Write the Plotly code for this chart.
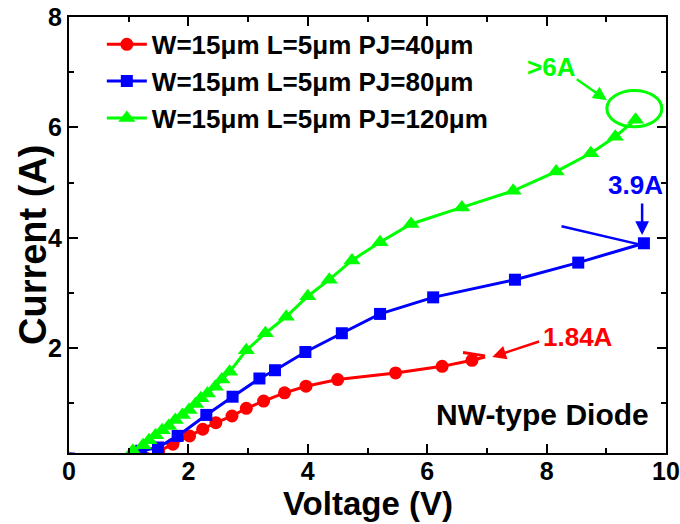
import plotly.graph_objects as go

# Measured I-V curves of NW-type diodes (W=15um, L=5um) for three PJ values
v_pj40 = [0.0, 1.30, 1.50, 1.74, 2.02, 2.24, 2.46, 2.73, 2.97, 3.26, 3.61, 3.97, 4.50, 5.47, 6.25, 6.75, 6.97]
i_pj40 = [0.0, 0.0, 0.13, 0.26, 0.41, 0.53, 0.65, 0.77, 0.91, 1.04, 1.19, 1.31, 1.43, 1.55, 1.67, 1.78, 1.84]

v_pj80 = [0.0, 1.08, 1.21, 1.49, 1.82, 2.30, 2.74, 3.19, 3.45, 3.96, 4.57, 5.21, 6.10, 7.47, 8.53, 9.63]
i_pj80 = [0.0, 0.0, 0.14, 0.20, 0.41, 0.79, 1.12, 1.45, 1.60, 1.93, 2.27, 2.62, 2.92, 3.24, 3.55, 3.90]

v_pj120 = [0.0, 0.98, 1.07, 1.24, 1.34, 1.45, 1.56, 1.67, 1.78, 1.90, 2.01, 2.12, 2.21, 2.32, 2.45,
           2.56, 2.69, 2.97, 3.29, 3.64, 4.00, 4.36, 4.74, 5.21, 5.73, 6.58, 7.44, 8.16, 8.74,
           9.15, 9.49]
i_pj120 = [0.0, 0.0, 0.14, 0.24, 0.33, 0.42, 0.51, 0.59, 0.70, 0.79, 0.88, 0.99, 1.09, 1.18, 1.30,
           1.43, 1.57, 1.96, 2.27, 2.57, 2.94, 3.24, 3.59, 3.92, 4.25, 4.55, 4.85, 5.20, 5.53,
           5.83, 6.14]

names = ["W=15\u03bcm L=5\u03bcm PJ=40\u03bcm",
         "W=15\u03bcm L=5\u03bcm PJ=80\u03bcm",
         "W=15\u03bcm L=5\u03bcm PJ=120\u03bcm"]

RED, BLUE, GREEN = "#ff0000", "#0000ff", "#00ff00"
FONT = "Liberation Sans, Arial, sans-serif"

fig = go.Figure()

# PJ=40: markers on measured points, last segment drawn as plain line to the end value
fig.add_trace(go.Scatter(x=v_pj40[:-1], y=i_pj40[:-1], mode="lines+markers", name=names[0],
                         line=dict(color=RED, width=3),
                         marker=dict(symbol="circle", size=13, color=RED)))
fig.add_trace(go.Scatter(x=v_pj40[-2:], y=i_pj40[-2:], mode="lines", showlegend=False,
                         line=dict(color=RED, width=3)))
fig.add_trace(go.Scatter(x=v_pj80, y=i_pj80, mode="lines+markers", name=names[1],
                         line=dict(color=BLUE, width=3),
                         marker=dict(symbol="square", size=12, color=BLUE)))
fig.add_trace(go.Scatter(x=v_pj120, y=i_pj120, mode="lines+markers", name=names[2],
                         line=dict(color=GREEN, width=3),
                         marker=dict(symbol="triangle-up", size=15, color=GREEN)))

axis_common = dict(
    showline=True, linecolor="black", linewidth=2, mirror="ticks",
    ticks="inside", ticklen=9, tickwidth=2, tickcolor="black",
    showgrid=False, zeroline=False, automargin=False,
    tickfont=dict(family=FONT, size=25, color="black", weight="bold"),
    minor=dict(ticks="inside", ticklen=5, tickwidth=2, tickcolor="black", dtick=1, showgrid=False),
)

fig.update_xaxes(range=[0, 10], dtick=2, tick0=0, ticklabeloverflow="allow",
                 ticklabelstandoff=-5, **axis_common)
fig.update_yaxes(range=[0.1, 8], dtick=2, tick0=0, **axis_common)

# axis titles
TITLE_FONT = dict(family=FONT, size=33, color="black", weight="bold")
fig.add_annotation(x=0.5, y=0, xref="paper", yref="paper", yshift=-50,
                   xanchor="center", yanchor="middle", showarrow=False,
                   text="Voltage (V)", font=TITLE_FONT)
fig.add_annotation(x=0, y=0.477, xref="paper", yref="paper", xshift=-36,
                   xanchor="center", yanchor="middle", showarrow=False, textangle=-90,
                   text="Current (A)", font=dict(TITLE_FONT, size=38))

def label(x, y, text, color):
    fig.add_annotation(x=x, y=y, text=text, showarrow=False, xanchor="center", yanchor="middle",
                       font=dict(family=FONT, size=26, color=color, weight="bold"))

def arrow(x0, y0, x1, y1, color):
    fig.add_annotation(x=x1, y=y1, ax=x0, ay=y0, axref="x", ayref="y", text="",
                       showarrow=True, arrowhead=2, arrowsize=1.1, arrowwidth=2.5,
                       arrowcolor=color, standoff=0, startstandoff=0)

label(8.52, 2.20, "1.84A", RED)
arrow(7.90, 2.13, 7.09, 1.84, RED)
fig.add_shape(type="line", x0=6.60, y0=1.92, x1=6.97, y1=1.86, line=dict(color=RED, width=3))

label(9.49, 4.95, "3.9A", BLUE)
arrow(9.60, 4.65, 9.60, 4.05, BLUE)
fig.add_shape(type="line", x0=8.25, y0=4.21, x1=9.55, y1=3.88, line=dict(color=BLUE, width=2.5))

label(8.09, 7.09, ">6A", GREEN)
arrow(8.48, 6.89, 9.01, 6.49, GREEN)
fig.add_shape(type="circle", x0=9.01, x1=9.93, y0=6.01, y1=6.67, line=dict(color=GREEN, width=3))

fig.add_annotation(x=0.793, y=0.089, xref="paper", yref="paper", text="NW-type Diode",
                   xanchor="center", yanchor="middle", showarrow=False,
                   font=dict(family=FONT, size=30, color="black", weight="bold"))

fig.update_layout(
    width=680, height=524,
    margin=dict(l=69, r=14, t=17, b=71),
    plot_bgcolor="white", paper_bgcolor="white",
    legend=dict(x=0.055, y=0.991, xanchor="left", yanchor="top",
                bgcolor="rgba(0,0,0,0)", borderwidth=0,
                font=dict(family=FONT, size=26, color="black", weight="bold"),
                tracegroupgap=0, itemwidth=40),
)

fig.write_html("out.html")
